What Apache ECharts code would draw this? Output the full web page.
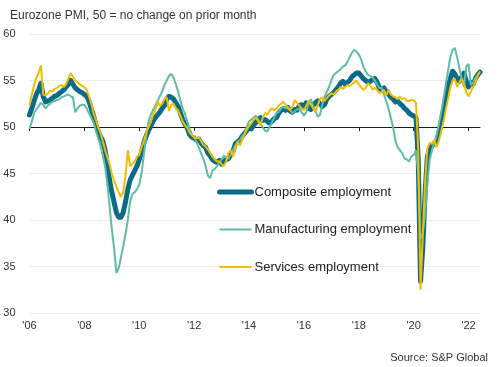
<!DOCTYPE html>
<html>
<head>
<meta charset="utf-8">
<script src="https://cdn.jsdelivr.net/npm/echarts@6/dist/echarts.min.js"></script>
<style>
html,body{margin:0;padding:0;background:#fff;}
#chart{width:500px;height:367px;}
</style>
</head>
<body>
<div id="chart"></div>
<script>
// Monthly categories: Jan 2006 .. Jun 2022
var startYear = 2006;
var monthCount = 198;
var months = [];
for (var i = 0; i < monthCount; i++) {
  var y = startYear + Math.floor(i / 12);
  var m = (i % 12) + 1;
  months.push(y + '-' + (m < 10 ? '0' + m : m));
}
var xTickLabels = ["'06","'08","'10","'12","'14","'16","'18","'20","'22"];
var yTicks = [30, 35, 40, 45, 50, 55, 60];

var compositeEmployment = [
  51.3, 52.0, 52.8, 53.5, 54.0, 54.7, 53.3, 52.7, 52.8, 52.9, 53.1, 53.3, // 2006
  53.4, 53.6, 53.8, 54.0, 54.3, 54.6, 55.0, 54.6, 54.2, 54.0, 53.8, 53.7, // 2007
  53.5, 53.3, 52.8, 52.0, 51.2, 50.3, 49.6, 49.0, 48.5, 47.6, 46.0, 44.3, // 2008
  43.0, 41.9, 40.8, 40.3, 40.3, 40.8, 42.0, 43.3, 44.3, 44.8, 45.3, 45.8, // 2009
  46.5, 47.3, 48.3, 49.0, 49.6, 50.1, 50.6, 51.0, 51.3, 51.6, 52.0, 52.3, // 2010
  53.0, 53.3, 53.2, 53.0, 52.6, 52.2, 51.5, 50.8, 50.3, 49.9, 49.2, 48.9, // 2011
  48.8, 48.6, 48.7, 48.3, 48.0, 47.8, 47.2, 46.9, 46.5, 46.3, 46.2, 46.4, // 2012
  46.0, 46.3, 46.5, 46.6, 47.0, 47.4, 48.2, 48.4, 48.6, 49.0, 49.3, 49.6, // 2013
  50.0, 49.8, 50.2, 50.5, 50.8, 51.0, 50.7, 50.8, 50.6, 50.4, 50.6, 50.9, // 2014
  51.0, 51.5, 51.8, 52.0, 51.8, 52.1, 51.7, 51.6, 51.9, 51.8, 52.3, 52.4, // 2015
  52.2, 52.6, 52.0, 51.9, 52.3, 52.6, 52.8, 52.5, 52.2, 52.4, 53.0, 53.3, // 2016
  53.5, 53.7, 54.0, 54.3, 54.7, 54.9, 54.6, 54.8, 55.0, 55.4, 55.6, 55.8, // 2017
  55.8, 55.5, 55.2, 55.0, 54.8, 54.9, 55.1, 55.2, 54.8, 54.2, 54.0, 54.2, // 2018
  53.8, 53.5, 53.2, 53.0, 52.7, 52.8, 52.5, 52.3, 52.0, 51.8, 51.5, 51.3, // 2019
  51.2, 51.0, 46.5, 33.4, 37.0, 43.0, 46.8, 47.6, 48.0, 48.2, 48.5, 49.3, // 2020
  50.5, 51.8, 53.0, 54.2, 55.2, 56.0, 55.7, 55.2, 54.9, 55.4, 55.8, 54.9, // 2021
  54.3, 54.8, 54.6, 55.2, 55.6, 55.9                                      // 2022
];

var manufacturingEmployment = [
  49.8, 50.6, 51.5, 51.9, 52.2, 52.6, 52.4, 52.0, 52.3, 52.5, 52.7, 52.8, // 2006
  52.9, 53.0, 53.2, 53.3, 53.4, 53.5, 53.3, 53.2, 51.6, 52.0, 52.3, 52.4, // 2007
  52.4, 52.0, 51.5, 51.0, 50.5, 49.6, 48.8, 48.0, 47.0, 45.8, 44.0, 41.5, // 2008
  39.0, 37.0, 34.3, 34.8, 36.0, 37.2, 38.5, 40.0, 42.0, 42.8, 43.0, 43.3, // 2009
  43.8, 45.0, 47.0, 49.0, 50.5, 51.3, 51.8, 52.3, 52.8, 53.3, 53.8, 54.5, // 2010
  55.0, 55.5, 55.7, 55.3, 54.6, 53.8, 52.8, 52.0, 51.4, 50.6, 49.8, 49.2, // 2011
  48.9, 48.4, 47.8, 47.2, 46.6, 45.8, 44.8, 44.5, 45.3, 45.5, 45.8, 46.2, // 2012
  46.5, 46.9, 46.7, 46.6, 47.0, 47.5, 48.0, 48.4, 48.6, 49.0, 49.3, 50.0, // 2013
  50.6, 50.8, 51.0, 51.2, 50.8, 50.3, 50.0, 49.6, 49.5, 50.0, 50.5, 51.0, // 2014
  51.5, 51.6, 52.0, 52.2, 52.0, 52.2, 51.8, 51.5, 51.7, 51.9, 52.0, 51.6, // 2015
  51.2, 51.6, 52.4, 53.0, 52.3, 51.8, 51.1, 51.3, 52.4, 53.2, 53.8, 54.3, // 2016
  55.0, 55.6, 55.8, 56.0, 56.2, 56.5, 56.6, 57.0, 57.5, 58.0, 58.3, 58.1, // 2017
  57.8, 57.3, 56.5, 56.0, 55.6, 55.5, 55.3, 55.0, 54.6, 54.2, 54.2, 53.5, // 2018
  52.8, 52.0, 51.0, 50.0, 48.5, 47.8, 47.5, 47.2, 46.6, 46.5, 46.3, 46.8, // 2019
  47.0, 47.5, 45.0, 38.0, 38.5, 40.5, 44.0, 46.5, 47.5, 48.3, 49.0, 50.3, // 2020
  51.5, 53.0, 54.5, 56.0, 57.5, 58.3, 58.5, 57.5, 56.3, 55.2, 54.3, 56.5, // 2021
  56.8, 54.5, 54.8, 55.3, 55.5, 56.0                                      // 2022
];

var servicesEmployment = [
  52.3, 53.5, 54.5, 55.3, 55.8, 56.6, 53.5, 53.4, 53.6, 53.9, 53.8, 54.1, // 2006
  54.2, 54.4, 54.5, 54.3, 54.6, 55.2, 55.8, 55.4, 55.0, 54.8, 54.6, 54.4, // 2007
  54.3, 54.0, 53.3, 52.5, 51.5, 50.8, 50.0, 49.4, 48.5, 47.6, 46.8, 46.0, // 2008
  45.0, 44.2, 43.6, 43.0, 42.5, 43.0, 44.8, 47.5, 45.8, 46.0, 46.3, 46.8, // 2009
  47.0, 47.8, 48.5, 49.3, 50.0, 50.5, 51.3, 51.8, 52.7, 52.3, 52.5, 53.0, // 2010
  53.2, 51.7, 52.4, 52.5, 52.0, 51.8, 51.2, 50.6, 50.2, 49.9, 49.4, 49.1, // 2011
  48.9, 48.8, 48.9, 48.5, 48.1, 47.9, 47.6, 47.2, 46.8, 46.5, 46.3, 46.3, // 2012
  46.0, 45.8, 46.3, 47.2, 47.5, 46.8, 47.8, 48.4, 48.0, 48.6, 49.2, 49.7, // 2013
  50.1, 50.4, 50.8, 51.0, 50.6, 50.2, 51.0, 51.5, 51.3, 51.8, 52.0, 51.8, // 2014
  52.0, 52.3, 52.5, 52.7, 52.4, 52.0, 51.8, 52.2, 52.9, 52.6, 52.3, 52.0, // 2015
  51.8, 52.3, 52.8, 52.5, 52.0, 51.6, 52.3, 53.0, 53.2, 52.8, 53.1, 53.4, // 2016
  53.6, 53.5, 53.8, 54.0, 54.3, 54.1, 54.3, 54.5, 54.4, 54.6, 54.8, 55.0, // 2017
  54.6, 54.3, 54.0, 54.2, 54.7, 54.5, 54.0, 54.2, 54.0, 53.6, 53.8, 54.0, // 2018
  53.4, 54.0, 53.5, 53.3, 53.2, 53.0, 53.3, 53.0, 53.1, 52.8, 52.8, 52.9, // 2019
  52.9, 52.6, 47.5, 32.5, 38.5, 44.2, 47.7, 48.3, 48.2, 48.6, 47.8, 48.5, // 2020
  49.5, 50.5, 51.8, 53.0, 54.2, 55.0, 55.2, 54.3, 54.8, 55.2, 54.6, 53.7, // 2021
  53.3, 53.8, 54.3, 54.8, 55.6, 55.9                                      // 2022
];

var seriesNames = ['Composite employment', 'Manufacturing employment', 'Services employment'];

var FONT = '"Liberation Sans", Arial, sans-serif';
var chart = echarts.init(document.getElementById('chart'), null, {renderer: 'canvas'});

function isTickIndex(idx) {
  return idx % 24 === 0;
}

var option = {
  animation: false,
  backgroundColor: '#ffffff',
  title: [
    {
      text: 'Eurozone PMI, 50 = no change on prior month',
      left: 5, top: 5,
      textStyle: {fontFamily: FONT, fontSize: 12, fontWeight: 'normal', color: '#333'}
    },
    {
      text: 'Source: S&P Global',
      right: 7, top: 347,
      textStyle: {fontFamily: FONT, fontSize: 11, fontWeight: 'normal', color: '#333'}
    }
  ],
  legend: {
    orient: 'vertical',
    left: 212, top: 180,
    itemWidth: 32, itemHeight: 14, itemGap: 23.5,
    data: [
      {name: seriesNames[0], lineStyle: {width: 5, cap: 'round'}},
      {name: seriesNames[1], lineStyle: {width: 2}},
      {name: seriesNames[2], lineStyle: {width: 2}}
    ],
    itemStyle: {opacity: 0},
    textStyle: {fontFamily: FONT, fontSize: 13, color: '#222', lineHeight: 14, padding: [0, 0, 0, -2]}
  },
  grid: {left: 29.5, right: 20, top: 34, bottom: 54, containLabel: false},
  xAxis: [
    {
      type: 'category',
      data: months,
      boundaryGap: false,
      axisLine: {show: false},
      axisTick: {show: false},
      splitLine: {show: false},
      axisLabel: {
        interval: function (idx) { return isTickIndex(idx); },
        formatter: function (val, idx) { return xTickLabels[Math.round(idx / 24)]; },
        fontFamily: FONT, fontSize: 11, color: '#333', margin: 7
      }
    },
    {
      type: 'category',
      data: months,
      boundaryGap: false,
      position: 'bottom',
      offset: -186,
      axisLine: {show: true, onZero: false, lineStyle: {color: '#1a1a1a', width: 1}},
      axisTick: {show: true, interval: function (idx) { return isTickIndex(idx); }, length: 4, lineStyle: {color: '#1a1a1a'}},
      axisLabel: {show: false},
      splitLine: {show: false}
    }
  ],
  yAxis: {
    type: 'value',
    min: yTicks[0], max: yTicks[yTicks.length - 1], interval: 5,
    axisLine: {show: false},
    axisTick: {show: false},
    splitLine: {show: true, lineStyle: {color: '#ececec', width: 1}},
    axisLabel: {fontFamily: FONT, fontSize: 11, color: '#333', margin: 14}
  },
  series: [
    {
      name: seriesNames[0], type: 'line', data: compositeEmployment,
      symbol: 'none', xAxisIndex: 0,
      lineStyle: {color: '#0b6a88', width: 5, join: 'round', cap: 'round'},
      itemStyle: {color: '#0b6a88'}, z: 2
    },
    {
      name: seriesNames[1], type: 'line', data: manufacturingEmployment,
      symbol: 'none', xAxisIndex: 0,
      lineStyle: {color: '#5dbea4', width: 2},
      itemStyle: {color: '#5dbea4'}, z: 3
    },
    {
      name: seriesNames[2], type: 'line', data: servicesEmployment,
      symbol: 'none', xAxisIndex: 0,
      lineStyle: {color: '#f2bd00', width: 2},
      itemStyle: {color: '#f2bd00'}, z: 4
    }
  ]
};
chart.setOption(option);
</script>
</body>
</html>
